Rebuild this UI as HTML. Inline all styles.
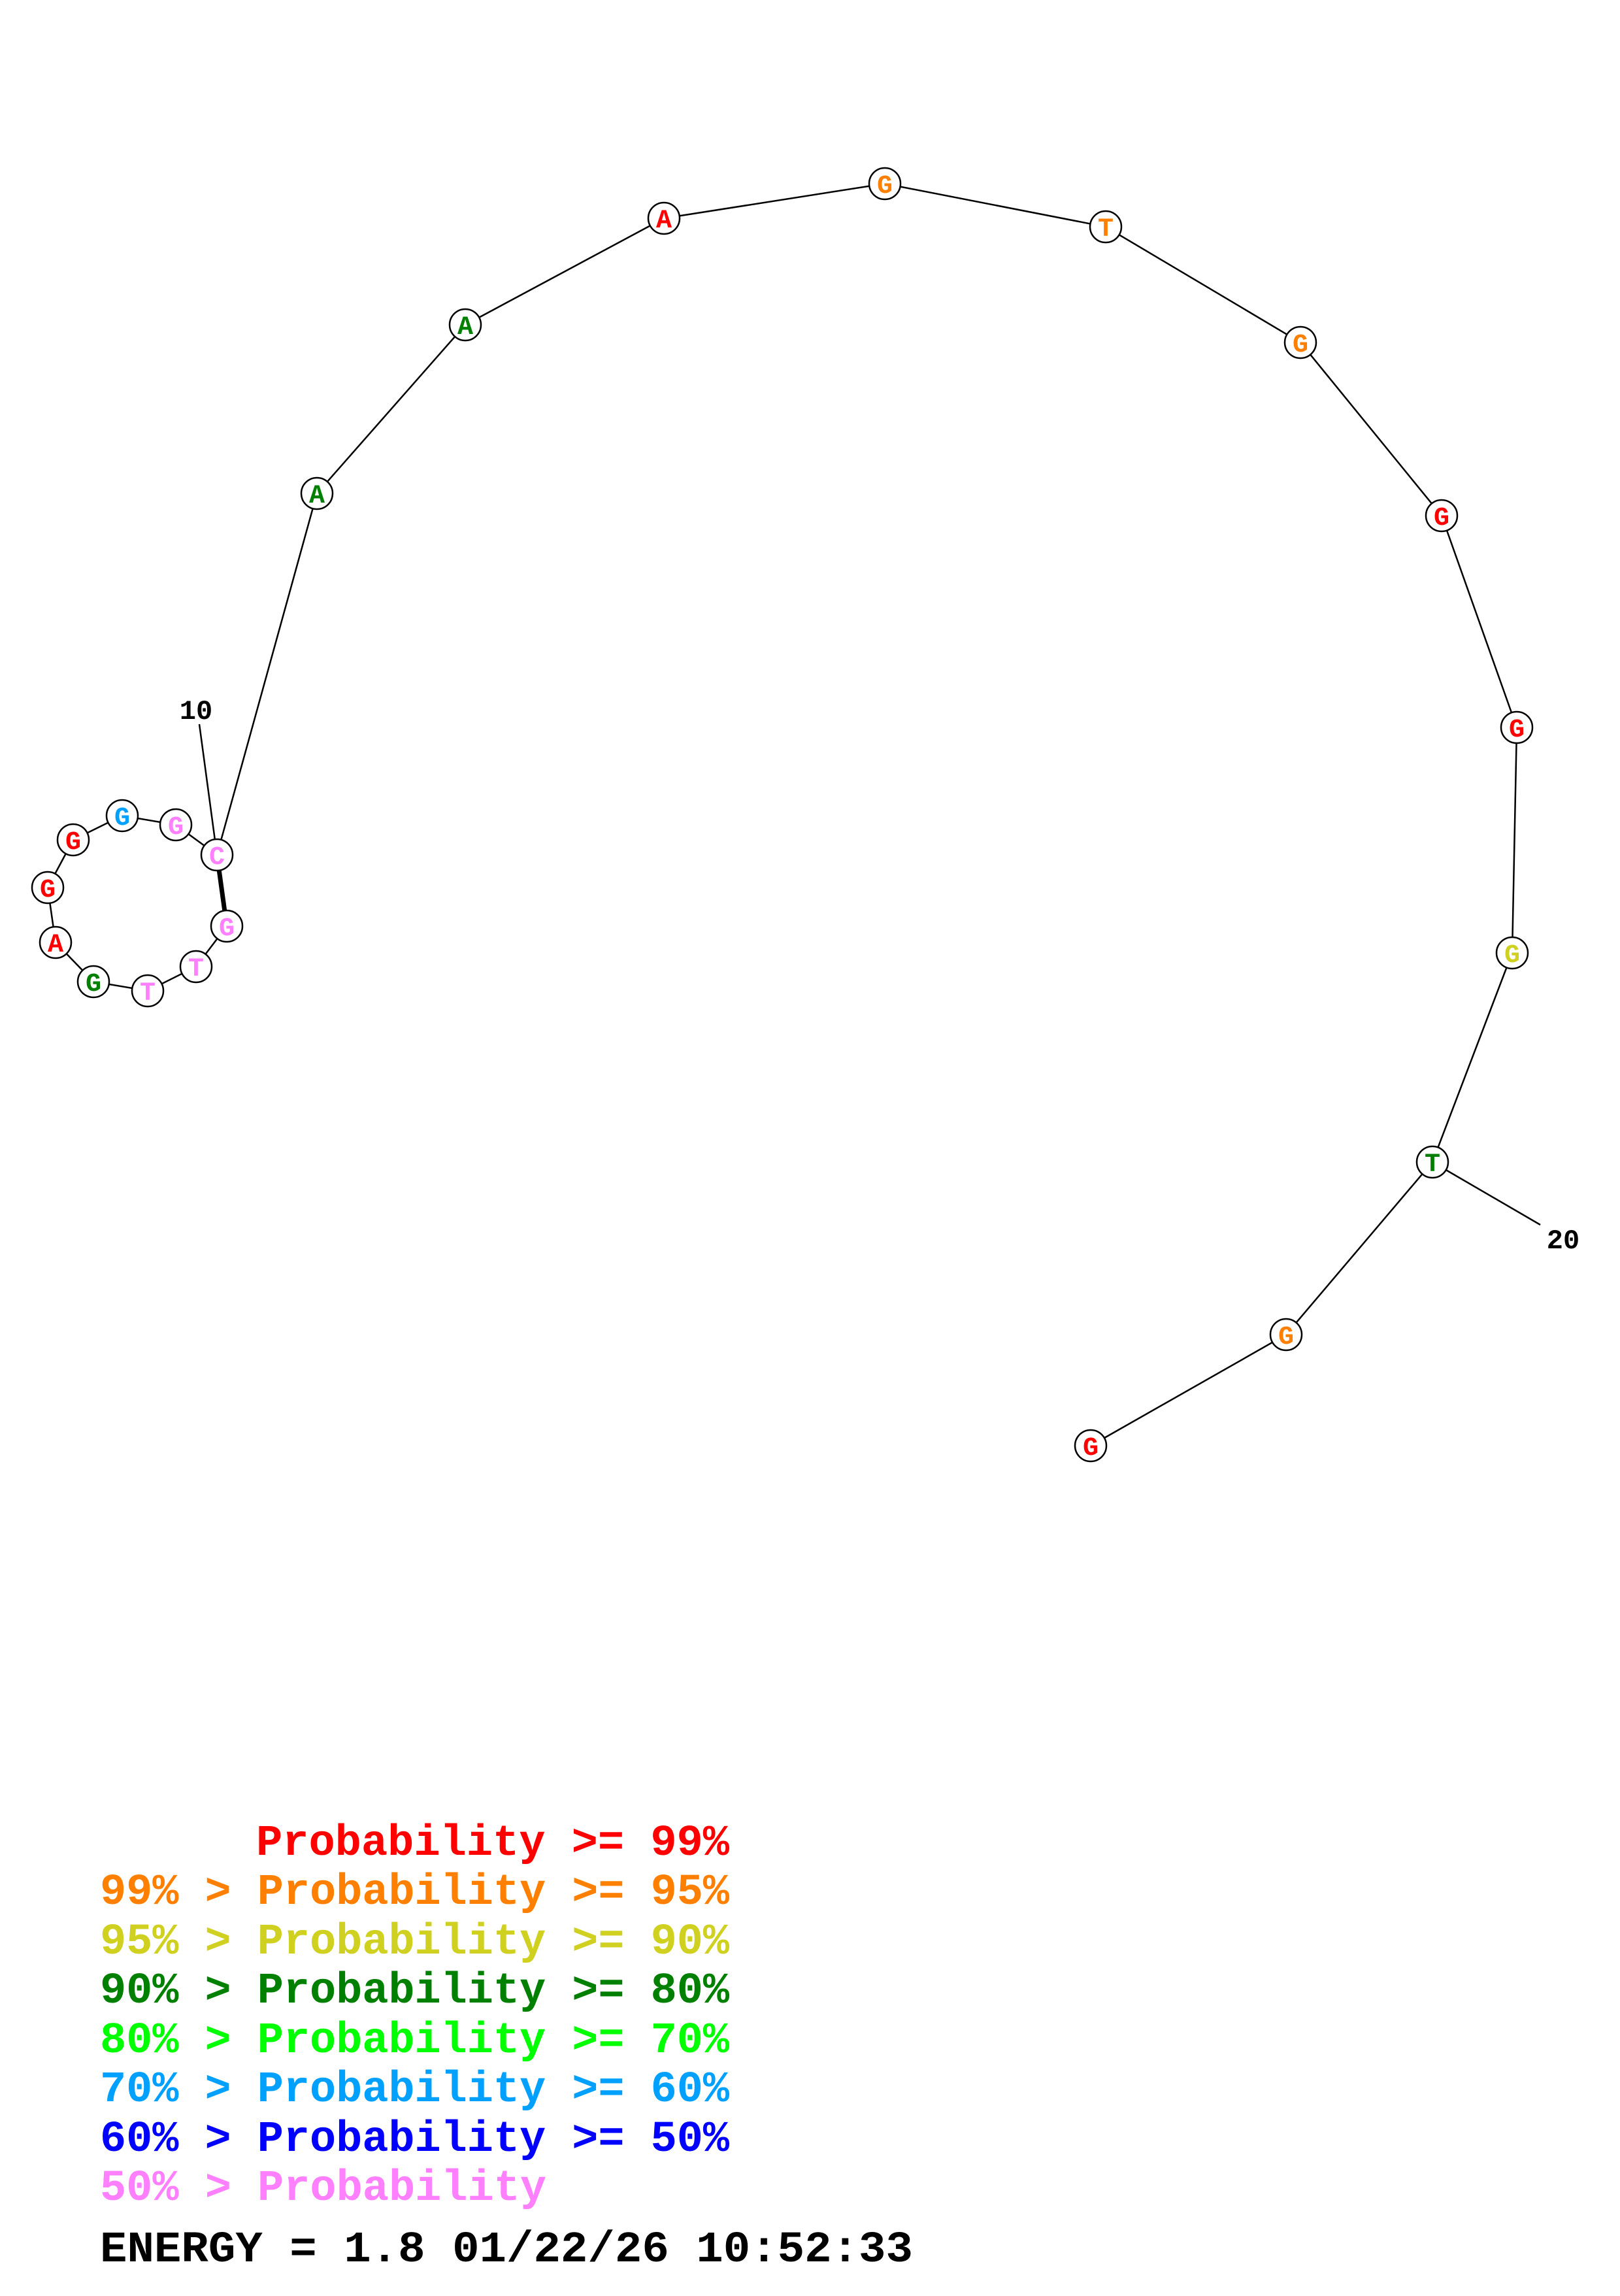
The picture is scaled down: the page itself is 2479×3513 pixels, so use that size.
<!DOCTYPE html>
<html><head><meta charset="utf-8"><style>html,body{margin:0;padding:0;background:#fff}</style></head>
<body>
<svg width="2479" height="3508" viewBox="0 0 2479 3508" xmlns="http://www.w3.org/2000/svg">
<g stroke="#000" stroke-width="2.5" fill="none">
<polyline points="332,1308 485,755 712,497 1016,334 1354,281 1692,347 1990,524 2206,789 2321,1113 2314,1458 2192,1778 1968,2042 1669,2212"/>
<polyline points="332,1308 269,1262 187,1248 112,1285 73,1358 85,1442 143,1502 226,1516 300,1479 347,1417"/>
<line x1="305" y1="1108" x2="332" y2="1308"/>
<line x1="2192" y1="1778" x2="2357" y2="1874"/>
<line x1="332" y1="1308" x2="347" y2="1417" stroke-width="7"/>
</g>
<g stroke="#000" stroke-width="2.5" fill="#fff">
<circle cx="332" cy="1308" r="24"/><circle cx="347" cy="1417" r="24"/><circle cx="300" cy="1479" r="24"/><circle cx="226" cy="1516" r="24"/><circle cx="143" cy="1502" r="24"/><circle cx="85" cy="1442" r="24"/><circle cx="73" cy="1358" r="24"/><circle cx="112" cy="1285" r="24"/><circle cx="187" cy="1248" r="24"/><circle cx="269" cy="1262" r="24"/>
<circle cx="485" cy="755" r="24"/><circle cx="712" cy="497" r="24"/><circle cx="1016" cy="334" r="24"/><circle cx="1354" cy="281" r="24"/><circle cx="1692" cy="347" r="24"/><circle cx="1990" cy="524" r="24"/><circle cx="2206" cy="789" r="24"/><circle cx="2321" cy="1113" r="24"/><circle cx="2314" cy="1458" r="24"/><circle cx="2192" cy="1778" r="24"/><circle cx="1968" cy="2042" r="24"/><circle cx="1669" cy="2212" r="24"/>
</g>
<g font-family="Liberation Mono, monospace" font-weight="bold" font-size="40" text-anchor="middle">
<text x="332" y="1322" fill="#ff80ff">C</text><text x="347" y="1431" fill="#ff80ff">G</text><text x="300" y="1493" fill="#ff80ff">T</text><text x="226" y="1530" fill="#ff80ff">T</text><text x="143" y="1516" fill="#008000">G</text><text x="85" y="1456" fill="#ff0000">A</text><text x="73" y="1372" fill="#ff0000">G</text><text x="112" y="1299" fill="#ff0000">G</text><text x="187" y="1262" fill="#00a0ff">G</text><text x="269" y="1276" fill="#ff80ff">G</text>
<text x="485" y="769" fill="#008000">A</text><text x="712" y="511" fill="#008000">A</text><text x="1016" y="348" fill="#ff0000">A</text><text x="1354" y="295" fill="#ff8000">G</text><text x="1692" y="361" fill="#ff8000">T</text><text x="1990" y="538" fill="#ff8000">G</text><text x="2206" y="803" fill="#ff0000">G</text><text x="2321" y="1127" fill="#ff0000">G</text><text x="2314" y="1472" fill="#d0d020">G</text><text x="2192" y="1792" fill="#008000">T</text><text x="1968" y="2056" fill="#ff8000">G</text><text x="1669" y="2226" fill="#ff0000">G</text>
</g>
<g font-family="Liberation Mono, monospace" font-weight="bold" font-size="42" fill="#000" text-anchor="middle">
<text x="300" y="1100">10</text><text x="2392" y="1910">20</text>
</g>
<g font-family="Liberation Mono, monospace" font-weight="bold" font-size="67" style="white-space:pre">
<text x="392" y="2838" fill="#ff0000" textLength="724" lengthAdjust="spacingAndGlyphs">Probability &gt;= 99%</text>
<text x="153" y="2913" fill="#ff8000" textLength="963" lengthAdjust="spacingAndGlyphs">99% &gt; Probability &gt;= 95%</text>
<text x="153" y="2989" fill="#d0d020" textLength="963" lengthAdjust="spacingAndGlyphs">95% &gt; Probability &gt;= 90%</text>
<text x="153" y="3064" fill="#008000" textLength="963" lengthAdjust="spacingAndGlyphs">90% &gt; Probability &gt;= 80%</text>
<text x="153" y="3140" fill="#00ff00" textLength="963" lengthAdjust="spacingAndGlyphs">80% &gt; Probability &gt;= 70%</text>
<text x="153" y="3215" fill="#00a0ff" textLength="963" lengthAdjust="spacingAndGlyphs">70% &gt; Probability &gt;= 60%</text>
<text x="153" y="3291" fill="#0000ff" textLength="963" lengthAdjust="spacingAndGlyphs">60% &gt; Probability &gt;= 50%</text>
<text x="153" y="3366" fill="#ff80ff" textLength="683" lengthAdjust="spacingAndGlyphs">50% &gt; Probability</text>
<text x="153" y="3460" fill="#000" textLength="1244" lengthAdjust="spacingAndGlyphs">ENERGY = 1.8  01/22/26 10:52:33</text>
</g>
</svg>
</body></html>
